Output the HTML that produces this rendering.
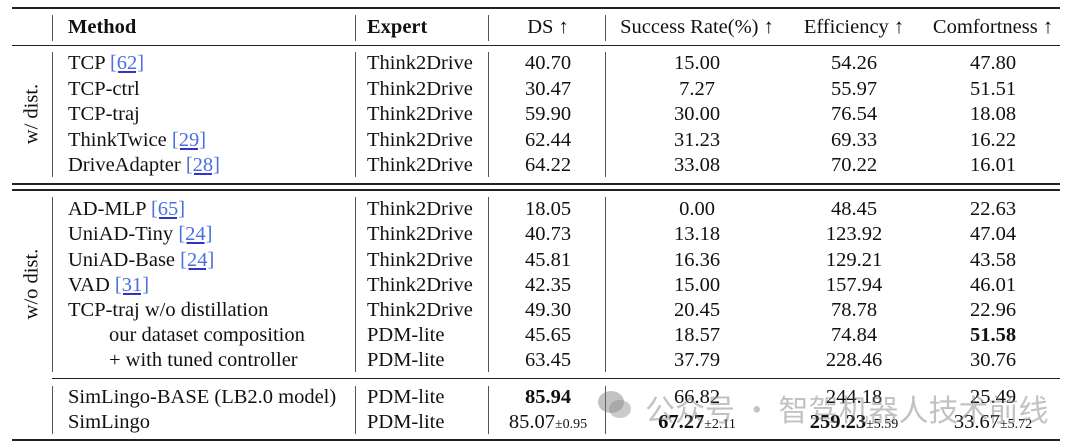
<!DOCTYPE html>
<html><head><meta charset="utf-8"><style>
body{margin:0;width:1080px;height:448px;background:#fff;position:relative;overflow:hidden;font-family:"Liberation Serif",serif;font-size:20.5px;color:#111}
.t{position:absolute;white-space:nowrap;line-height:22px;transform:translateY(-11px)}
.c{transform:translate(-50%,-11px)}
.h{position:absolute;left:12px;width:1048px;background:#222}
.v{position:absolute;width:1.3px;background:#555}
.b{font-weight:bold}
.r{color:#4a6fe0;text-decoration:underline;text-decoration-color:#33c;}
small{font-size:14px}
.rot{position:absolute;transform:translate(-50%,-50%) rotate(-90deg);white-space:nowrap}
.wm{position:absolute;left:645px;top:386px;font-family:"Noto Sans CJK SC",sans-serif;font-size:30px;color:rgba(120,120,120,0.45);white-space:nowrap}
</style></head><body>
<div class="h" style="top:7px;height:2px"></div>
<div class="h" style="top:45px;height:1.3px"></div>
<div class="h" style="top:183px;height:1.5px"></div>
<div class="h" style="top:189px;height:1.5px"></div>
<div class="h" style="top:378px;height:1.3px;left:52px;width:1008px"></div>
<div class="h" style="top:439px;height:2px"></div>

<div class="v" style="left:52px;top:15px;height:26px"></div>
<div class="v" style="left:355px;top:15px;height:26px"></div>
<div class="v" style="left:488px;top:15px;height:26px"></div>
<div class="v" style="left:605px;top:15px;height:26px"></div>
<div class="v" style="left:52px;top:52px;height:125px"></div>
<div class="v" style="left:355px;top:52px;height:125px"></div>
<div class="v" style="left:488px;top:52px;height:125px"></div>
<div class="v" style="left:605px;top:52px;height:125px"></div>
<div class="v" style="left:52px;top:197px;height:175px"></div>
<div class="v" style="left:355px;top:197px;height:175px"></div>
<div class="v" style="left:488px;top:197px;height:175px"></div>
<div class="v" style="left:605px;top:197px;height:175px"></div>
<div class="v" style="left:52px;top:386px;height:48px"></div>
<div class="v" style="left:355px;top:386px;height:48px"></div>
<div class="v" style="left:488px;top:386px;height:48px"></div>
<div class="v" style="left:605px;top:386px;height:48px"></div>

<div class="t b" style="left:68px;top:27px">Method</div>
<div class="t b" style="left:367px;top:27px">Expert</div>
<div class="t c" style="left:548px;top:27px">DS ↑</div>
<div class="t c" style="left:697px;top:27px">Success Rate(%) ↑</div>
<div class="t c" style="left:854px;top:27px">Efficiency ↑</div>
<div class="t c" style="left:993px;top:27px">Comfortness ↑</div>

<div class="rot" style="left:32px;top:114px">w/ dist.</div>
<div class="rot" style="left:32px;top:284px">w/o dist.</div>

<div class="t" style="left:68px;top:63px">TCP <span class="r">[62]</span></div>
<div class="t" style="left:68px;top:88.5px">TCP-ctrl</div>
<div class="t" style="left:68px;top:114px">TCP-traj</div>
<div class="t" style="left:68px;top:139.5px">ThinkTwice <span class="r">[29]</span></div>
<div class="t" style="left:68px;top:165px">DriveAdapter <span class="r">[28]</span></div>
<div class="t" style="left:367px;top:63px">Think2Drive</div>
<div class="t" style="left:367px;top:88.5px">Think2Drive</div>
<div class="t" style="left:367px;top:114px">Think2Drive</div>
<div class="t" style="left:367px;top:139.5px">Think2Drive</div>
<div class="t" style="left:367px;top:165px">Think2Drive</div>
<div class="t c" style="left:548px;top:63px">40.70</div><div class="t c" style="left:697px;top:63px">15.00</div><div class="t c" style="left:854px;top:63px">54.26</div><div class="t c" style="left:993px;top:63px">47.80</div>
<div class="t c" style="left:548px;top:88.5px">30.47</div><div class="t c" style="left:697px;top:88.5px">7.27</div><div class="t c" style="left:854px;top:88.5px">55.97</div><div class="t c" style="left:993px;top:88.5px">51.51</div>
<div class="t c" style="left:548px;top:114px">59.90</div><div class="t c" style="left:697px;top:114px">30.00</div><div class="t c" style="left:854px;top:114px">76.54</div><div class="t c" style="left:993px;top:114px">18.08</div>
<div class="t c" style="left:548px;top:139.5px">62.44</div><div class="t c" style="left:697px;top:139.5px">31.23</div><div class="t c" style="left:854px;top:139.5px">69.33</div><div class="t c" style="left:993px;top:139.5px">16.22</div>
<div class="t c" style="left:548px;top:165px">64.22</div><div class="t c" style="left:697px;top:165px">33.08</div><div class="t c" style="left:854px;top:165px">70.22</div><div class="t c" style="left:993px;top:165px">16.01</div>

<div class="t" style="left:68px;top:209px">AD-MLP <span class="r">[65]</span></div>
<div class="t" style="left:68px;top:234px">UniAD-Tiny <span class="r">[24]</span></div>
<div class="t" style="left:68px;top:259.5px">UniAD-Base <span class="r">[24]</span></div>
<div class="t" style="left:68px;top:284.5px">VAD <span class="r">[31]</span></div>
<div class="t" style="left:68px;top:310px">TCP-traj w/o distillation</div>
<div class="t" style="left:109px;top:335px">our dataset composition</div>
<div class="t" style="left:109px;top:360px">+ with tuned controller</div>
<div class="t" style="left:367px;top:209px">Think2Drive</div>
<div class="t" style="left:367px;top:234px">Think2Drive</div>
<div class="t" style="left:367px;top:259.5px">Think2Drive</div>
<div class="t" style="left:367px;top:284.5px">Think2Drive</div>
<div class="t" style="left:367px;top:310px">Think2Drive</div>
<div class="t" style="left:367px;top:335px">PDM-lite</div>
<div class="t" style="left:367px;top:360px">PDM-lite</div>
<div class="t c" style="left:548px;top:209px">18.05</div><div class="t c" style="left:697px;top:209px">0.00</div><div class="t c" style="left:854px;top:209px">48.45</div><div class="t c" style="left:993px;top:209px">22.63</div>
<div class="t c" style="left:548px;top:234px">40.73</div><div class="t c" style="left:697px;top:234px">13.18</div><div class="t c" style="left:854px;top:234px">123.92</div><div class="t c" style="left:993px;top:234px">47.04</div>
<div class="t c" style="left:548px;top:259.5px">45.81</div><div class="t c" style="left:697px;top:259.5px">16.36</div><div class="t c" style="left:854px;top:259.5px">129.21</div><div class="t c" style="left:993px;top:259.5px">43.58</div>
<div class="t c" style="left:548px;top:284.5px">42.35</div><div class="t c" style="left:697px;top:284.5px">15.00</div><div class="t c" style="left:854px;top:284.5px">157.94</div><div class="t c" style="left:993px;top:284.5px">46.01</div>
<div class="t c" style="left:548px;top:310px">49.30</div><div class="t c" style="left:697px;top:310px">20.45</div><div class="t c" style="left:854px;top:310px">78.78</div><div class="t c" style="left:993px;top:310px">22.96</div>
<div class="t c" style="left:548px;top:335px">45.65</div><div class="t c" style="left:697px;top:335px">18.57</div><div class="t c" style="left:854px;top:335px">74.84</div><div class="t c b" style="left:993px;top:335px">51.58</div>
<div class="t c" style="left:548px;top:360px">63.45</div><div class="t c" style="left:697px;top:360px">37.79</div><div class="t c" style="left:854px;top:360px">228.46</div><div class="t c" style="left:993px;top:360px">30.76</div>

<div class="t" style="left:68px;top:397px">SimLingo-BASE (LB2.0 model)</div>
<div class="t" style="left:68px;top:422px">SimLingo</div>
<div class="t" style="left:367px;top:397px">PDM-lite</div>
<div class="t" style="left:367px;top:422px">PDM-lite</div>
<div class="t c b" style="left:548px;top:397px">85.94</div><div class="t c" style="left:697px;top:397px">66.82</div><div class="t c" style="left:854px;top:397px">244.18</div><div class="t c" style="left:993px;top:397px">25.49</div>
<div class="t c" style="left:548px;top:422px">85.07<small>±0.95</small></div><div class="t c" style="left:697px;top:422px"><b>67.27</b><small>±2.11</small></div><div class="t c" style="left:854px;top:422px"><b>259.23</b><small>±5.59</small></div><div class="t c" style="left:993px;top:422px">33.67<small>±5.72</small></div>

<svg style="position:absolute;left:596px;top:388px" width="38" height="34"><ellipse cx="15" cy="14" rx="13" ry="11" fill="rgba(120,120,120,0.45)"/><ellipse cx="24" cy="21" rx="11" ry="9" fill="rgba(140,140,140,0.45)"/></svg>
<div class="wm">公众号 · 智驾机器人技术前线</div>
</body></html>
